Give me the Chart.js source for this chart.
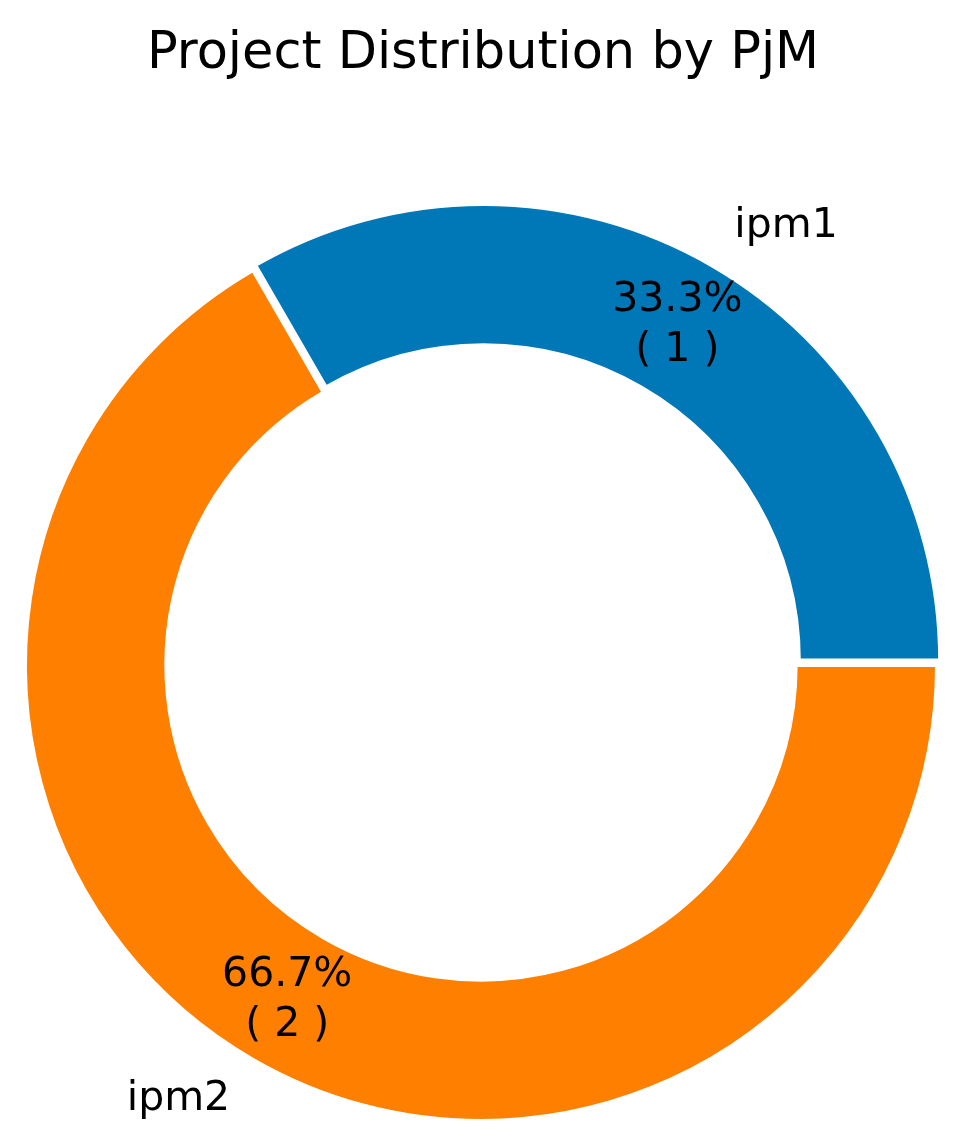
<!DOCTYPE html>
<html>
<head>
<meta charset="utf-8">
<script src="https://cdn.jsdelivr.net/npm/chart.js@4/dist/chart.umd.min.js"></script>
<style>
  html, body { margin: 0; padding: 0; background: #ffffff; }
  #c { display: block; }
</style>
</head>
<body>
<canvas id="c" width="964" height="1146"></canvas>
<script>
const titleText = 'Project Distribution by PjM';
const categories = ['ipm1', 'ipm2'];
const projectCounts = [1, 2];
const sliceColors = ['#0077B6', '#FF8000'];
const sliceOffsets = [20, 0];

const FONT = '"DejaVu Sans", "Liberation Sans", sans-serif';

const labelPlugin = {
  id: 'pieLabels',
  afterDatasetsDraw(chart) {
    const ctx = chart.ctx;
    const meta = chart.getDatasetMeta(0);
    const data = chart.data.datasets[0].data;
    const total = data.reduce((a, b) => a + b, 0);
    ctx.save();
    ctx.fillStyle = '#000000';
    meta.data.forEach((arc, i) => {
      const mid = (arc.startAngle + arc.endAngle) / 2;
      const off = (sliceOffsets[i] || 0) / 4;
      const cx = arc.x + Math.cos(mid) * off;
      const cy = arc.y + Math.sin(mid) * off;
      const r = arc.outerRadius;
      // percentage label
      const pr = r * 0.85;
      const px = cx + Math.cos(mid) * pr;
      const py = cy + Math.sin(mid) * pr;
      ctx.font = '41px ' + FONT;
      ctx.textAlign = 'center';
      ctx.textBaseline = 'middle';
      const pct = (data[i] / total * 100).toFixed(1) + '%';
      ctx.fillText(pct, px, py - 25);
      ctx.fillText('( ' + data[i] + ' )', px, py + 25);
      // category label
      const lr = r * 1.1;
      const lx = cx + Math.cos(mid) * lr;
      const ly = cy + Math.sin(mid) * lr;
      ctx.textAlign = Math.cos(mid) > 0 ? 'left' : 'right';
      ctx.fillText(chart.data.labels[i], lx, ly);
    });
    // title
    ctx.font = '51px ' + FONT;
    ctx.textAlign = 'center';
    ctx.textBaseline = 'alphabetic';
    ctx.fillText(titleText, 483, 68);
    ctx.restore();
  }
};

new Chart(document.getElementById('c'), {
  type: 'doughnut',
  data: {
    labels: categories,
    datasets: [{
      data: projectCounts,
      backgroundColor: sliceColors,
      borderColor: '#ffffff',
      borderWidth: 4,
      offset: sliceOffsets,
      hoverOffset: 0
    }]
  },
  options: {
    responsive: false,
    animation: false,
    rotation: -30,
    cutout: '69%',
    radius: 456,
    layout: { padding: { top: 184, bottom: 0, left: 0, right: 2 } },
    plugins: {
      legend: { display: false },
      title: { display: false },
      tooltip: { enabled: false }
    }
  },
  plugins: [labelPlugin]
});
</script>
</body>
</html>
